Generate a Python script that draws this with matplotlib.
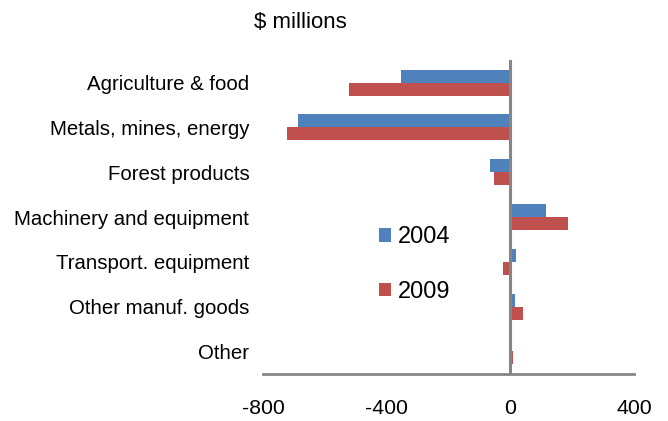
import matplotlib.pyplot as plt
import numpy as np

plt.rcParams['font.family'] = ['Liberation Sans', 'DejaVu Sans']
plt.rcParams['axes.unicode_minus'] = False

categories = ["Agriculture & food", "Metals, mines, energy", "Forest products",
              "Machinery and equipment", "Transport. equipment",
              "Other manuf. goods", "Other"]
vals_2004 = [-353, -686, -66, 116, 18, 16, 6]
vals_2009 = [-522, -724, -52, 188, -23, 42, 10]

blue = "#4F81BD"
red = "#C0504D"
grey = "#868686"

fig = plt.figure(figsize=(6.68, 4.21), dpi=100)
ax = fig.add_axes([0.394, 0.112, 0.555, 0.745])

y = np.arange(len(categories))
h = 0.29
ax.barh(y - h / 2, vals_2004, height=h, color=blue, label="2004")
ax.barh(y + h / 2, vals_2009, height=h, color=red, label="2009")

ax.set_ylim(len(categories) - 0.5, -0.5)
ax.set_xlim(-800, 400)
ax.set_xticks([-800, -400, 0, 400])
ax.set_yticks(y)
ax.set_yticklabels(categories, fontsize=14.7)
ax.tick_params(axis='x', length=0, pad=18, labelsize=15.3)
ax.tick_params(axis='y', length=0, pad=10)

for s in ["top", "right", "left"]:
    ax.spines[s].set_visible(False)
ax.spines["bottom"].set_color(grey)
ax.spines["bottom"].set_linewidth(2)
ax.axvline(0, color=grey, linewidth=2.2, zorder=3)

ax.legend(loc="upper left", bbox_to_anchor=(0.288, 0.5), frameon=False,
          fontsize=17, handlelength=0.5, handleheight=0.5,
          handletextpad=0.3, labelspacing=1.38, borderaxespad=0)

fig.text(0.45, 0.947, "$ millions", ha="center", va="center", fontsize=16)

plt.savefig("out.png")
